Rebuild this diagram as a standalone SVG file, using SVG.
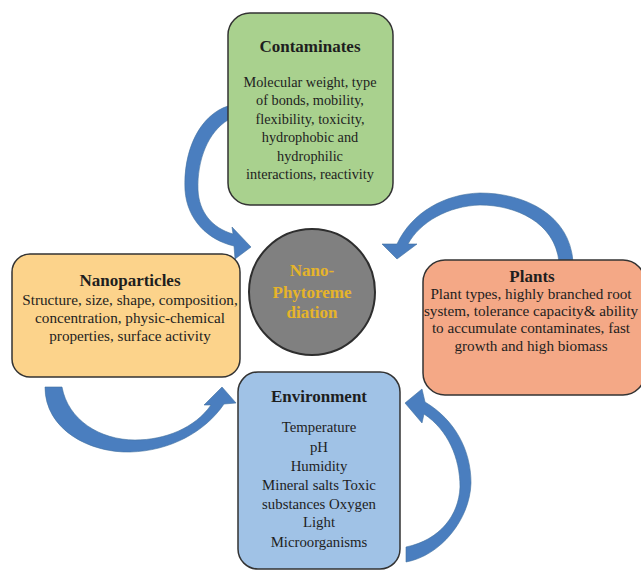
<svg xmlns="http://www.w3.org/2000/svg" width="641" height="572" viewBox="0 0 641 572">
<style>
.box{stroke:#333;stroke-width:1.5}
.t{font-family:"Liberation Serif","Times New Roman",serif;fill:#1e1e1e;text-anchor:middle}
.h{font-size:17px;font-weight:bold}
.b{font-size:14px}
.c{font-family:"Liberation Serif","Times New Roman",serif;font-size:17px;font-weight:bold;fill:#e6b42a;text-anchor:middle}
.arr{fill:#4a7ebf;stroke:#41709f;stroke-width:0.6}
</style>
<rect width="641" height="572" fill="#ffffff"/>
<g id="connectors">
<path class="arr" d="M228,106 C200,115 183,150 185,190 C187,220 208,240 234,246 L235,259 L251,247 L232,227 L233,234 C212,228 199,212 198,190 C197,160 208,132 228,120 Z"/>
<path class="arr" d="M573,262 C570,215 525,193 480,193 C445,194 412,212 397,244 L382,244 L397,259 L417,244 L408,244 C420,222 448,206 480,205 C515,205 555,222 559,262 Z"/>
<path class="arr" d="M45,387 C45,430 90,453 130,452 C170,451 205,432 224,404 L236,403 L222,387 L204,405 L211,405 C195,428 165,440 135,440 C100,440 68,420 62,387 Z"/>
<path class="arr" d="M406,562 C440,556 470,520 471,483 C471,450 455,420 425,402 L422,389 L405,403 L422,423 L424,414 C448,430 460,458 460,487 C459,515 440,540 406,547 Z"/>
</g>
<g id="contaminates">
<rect class="box" x="228" y="13" width="165" height="192" rx="22" fill="#a9d18e"/>
<text class="t h" x="310" y="52">Contaminates</text>
<g class="t" style="font-size:14.3px">
<text x="310" y="87">Molecular weight, type</text>
<text x="310" y="105">of bonds, mobility,</text>
<text x="310" y="124">flexibility, toxicity,</text>
<text x="310" y="142">hydrophobic and</text>
<text x="310" y="161">hydrophilic</text>
<text x="310" y="179">interactions, reactivity</text>
</g>
</g>
<g id="nanoparticles">
<rect class="box" x="12" y="254" width="228" height="123" rx="18" fill="#fcd38b"/>
<text class="t h" x="130" y="286">Nanoparticles</text>
<g class="t" style="font-size:15.2px">
<text x="130" y="305">Structure, size, shape, composition,</text>
<text x="130" y="323">concentration, physic-chemical</text>
<text x="130" y="341">properties, surface activity</text>
</g>
</g>
<g id="plants">
<rect class="box" x="423" y="260" width="222" height="135" rx="22" fill="#f4a886"/>
<text class="t h" x="532" y="282">Plants</text>
<g class="t" style="font-size:15.2px">
<text x="531" y="299">Plant types, highly branched root</text>
<text x="531" y="316">system, tolerance capacity&amp; ability</text>
<text x="531" y="333">to accumulate contaminates, fast</text>
<text x="531" y="351">growth and high biomass</text>
</g>
</g>
<g id="environment">
<rect class="box" x="238" y="372" width="162" height="197" rx="20" fill="#a0c2e6"/>
<text class="t h" x="319" y="402">Environment</text>
<g class="t" style="font-size:14.8px">
<text x="319" y="432">Temperature</text>
<text x="319" y="452">pH</text>
<text x="319" y="471">Humidity</text>
<text x="319" y="490">Mineral salts Toxic</text>
<text x="319" y="509">substances Oxygen</text>
<text x="319" y="527">Light</text>
<text x="319" y="547">Microorganisms</text>
</g>
</g>
<g id="center">
<circle cx="312" cy="292" r="63" fill="#808080" stroke="#2e2e2e" stroke-width="2"/>
<text class="c" x="312" y="276">Nano-</text>
<text class="c" x="312" y="298">Phytoreme</text>
<text class="c" x="312" y="318">diation</text>
</g>
</svg>
